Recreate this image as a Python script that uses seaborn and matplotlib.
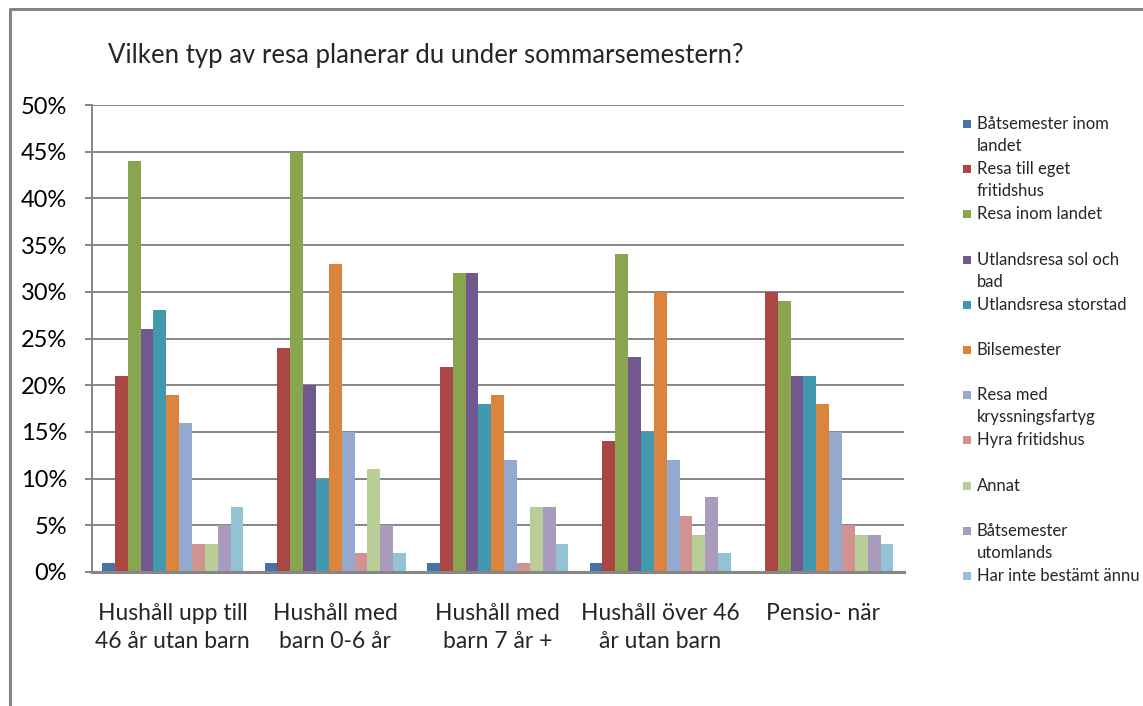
import matplotlib
matplotlib.use("Agg")
import numpy as np
import pandas as pd
import seaborn as sns
import matplotlib.pyplot as plt
from matplotlib.lines import Line2D
from matplotlib.patches import Rectangle
from matplotlib.ticker import FixedLocator

# ---------------- data ----------------
categories = [
    "Hushåll upp till\n46 år utan barn",
    "Hushåll med\nbarn 0-6 år",
    "Hushåll med\nbarn 7 år +",
    "Hushåll över 46\når utan barn",
    "Pensio- när",
]
series_names = [
    "Båtsemester inom\nlandet",
    "Resa till eget\nfritidshus",
    "Resa inom landet",
    "Utlandsresa sol och\nbad",
    "Utlandsresa storstad",
    "Bilsemester",
    "Resa med\nkryssningsfartyg",
    "Hyra fritidshus",
    "Annat",
    "Båtsemester\nutomlands",
    "Har inte bestämt ännu",
]
batsemester_inom_landet = [1, 1, 1, 1, 0]
resa_till_eget_fritidshus = [21, 24, 22, 14, 30]
resa_inom_landet = [44, 45, 32, 34, 29]
utlandsresa_sol_och_bad = [26, 20, 32, 23, 21]
utlandsresa_storstad = [28, 10, 18, 15, 21]
bilsemester = [19, 33, 19, 30, 18]
resa_med_kryssningsfartyg = [16, 15, 12, 12, 15]
hyra_fritidshus = [3, 2, 1, 6, 5]
annat = [3, 11, 7, 4, 4]
batsemester_utomlands = [5, 5, 7, 8, 4]
har_inte_bestamt = [7, 2, 3, 2, 3]

series_values = [
    batsemester_inom_landet, resa_till_eget_fritidshus, resa_inom_landet,
    utlandsresa_sol_och_bad, utlandsresa_storstad, bilsemester,
    resa_med_kryssningsfartyg, hyra_fritidshus, annat,
    batsemester_utomlands, har_inte_bestamt,
]
colors = ["#4572A7", "#AA4643", "#89A54E", "#71588F", "#4198AF", "#DB843D",
          "#93A9CF", "#D19392", "#B9CD96", "#A99BBD", "#91C3D5"]
y_ticks = [0, 5, 10, 15, 20, 25, 30, 35, 40, 45, 50]
y_tick_labels = [f"{t}%" for t in y_ticks]
title = "Vilken typ av resa planerar du under sommarsemestern?"

rows = []
for s, vals in zip(series_names, series_values):
    for c, v in zip(categories, vals):
        rows.append({"category": c, "series": s, "value": v})
df = pd.DataFrame(rows)

# ---------------- plot ----------------
sns.set_style("white")
plt.rcParams["font.family"] = ["Lato", "DejaVu Sans"]

W, H = 1143, 706
fig = plt.figure(figsize=(W / 100, H / 100), dpi=100)
ax_left, ax_right, ax_top, ax_bottom = 91.5, 904, 105, 572
ax = fig.add_axes([ax_left / W, 1 - ax_bottom / H,
                   (ax_right - ax_left) / W, (ax_bottom - ax_top) / H])

grid_col = "#868686"
sns.barplot(data=df, x="category", y="value", hue="series",
            order=categories, hue_order=series_names, palette=colors,
            width=0.87, gap=0, saturation=1, linewidth=0, legend=False, ax=ax)

ax.set_xlim(-0.5, len(categories) - 0.5)
ax.set_ylim(0, 50)
ax.set_yticks(y_ticks)
ax.set_yticklabels(y_tick_labels, fontsize=17, color="#000000")
ax.yaxis.grid(True, color=grid_col, linewidth=1.4)
ax.set_axisbelow(True)
ax.set_xlabel("")
ax.set_ylabel("")

# x tick labels at category centres, tick marks at boundaries
ax.set_xticks(range(len(categories)))
ax.set_xticklabels(categories, fontsize=16.5, linespacing=1.45)
ax.tick_params(axis="x", which="major", length=0, pad=22)
ax.xaxis.set_minor_locator(FixedLocator(np.arange(-0.5, len(categories), 1.0)))
ax.tick_params(axis="x", which="minor", length=5, width=1.4, color=grid_col)
ax.tick_params(axis="y", which="major", length=5, width=1.4, color=grid_col,
               pad=12.5, left=True)

for sp in ["top", "right"]:
    ax.spines[sp].set_visible(False)
for sp in ["left", "bottom"]:
    ax.spines[sp].set_color(grid_col)
    ax.spines[sp].set_linewidth(1.4)
ax.spines["bottom"].set_linewidth(2.2)

# title
fig.text(108 / W, 1 - 55 / H, title, fontsize=18.5, ha="left", va="center")

# legend (manual, Excel style, equal spacing per entry)
leg_y0 = 124
leg_step = 45.2
line_h = 22
for i, (name, col) in enumerate(zip(series_names, colors)):
    yc = leg_y0 + i * leg_step
    fig.add_artist(Rectangle((963 / W, 1 - (yc + 4) / H), 8 / W, 8 / H,
                             transform=fig.transFigure, facecolor=col,
                             edgecolor="none"))
    for k, line in enumerate(name.split("\n")):
        fig.text(977 / W, 1 - (yc + k * line_h) / H, line, fontsize=12,
                 ha="left", va="center")

# chart frame (top and left edges visible)
fig.add_artist(Line2D([10 / W, 1], [1 - 9 / H, 1 - 9 / H],
                      transform=fig.transFigure, color=grid_col, linewidth=2.2))
fig.add_artist(Line2D([10 / W, 10 / W], [0, 1 - 9 / H],
                      transform=fig.transFigure, color=grid_col, linewidth=2.2))

fig.savefig("out.png", dpi=100, facecolor="white")
